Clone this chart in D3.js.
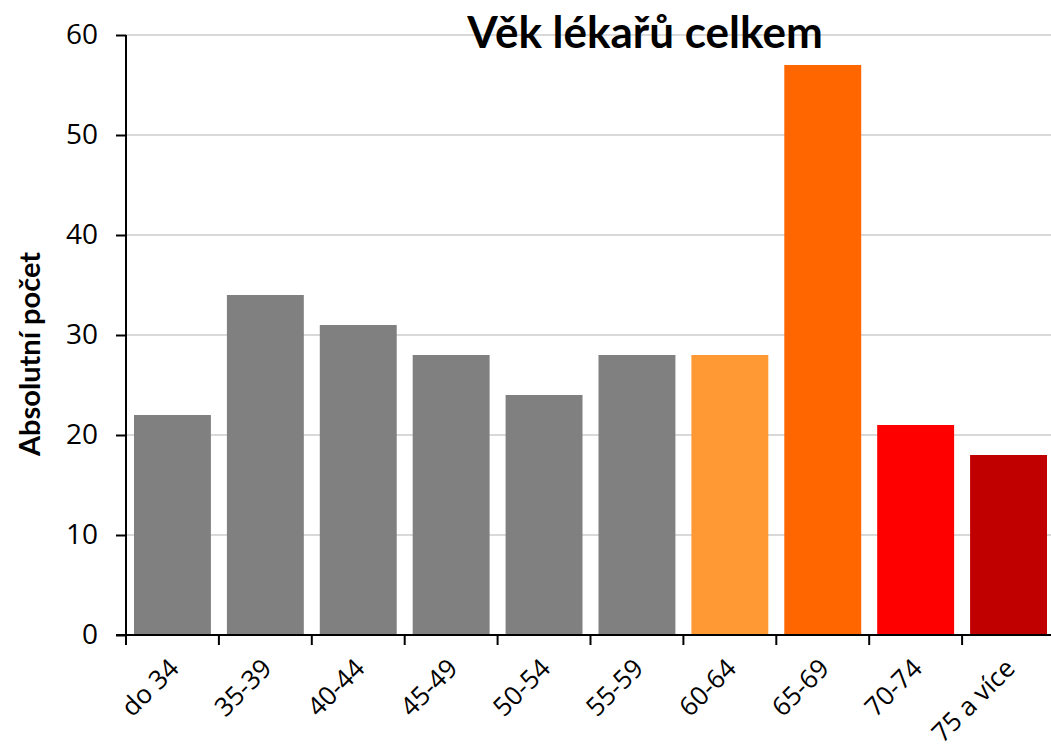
<!DOCTYPE html>
<html>
<head>
<meta charset="utf-8">
<script src="https://cdn.jsdelivr.net/npm/d3@7"></script>
<style>
  body { margin: 0; background: #fff; }
  svg { display: block; }
</style>
</head>
<body>
<svg width="1051" height="754"></svg>
<script>
var categories = ["do 34", "35-39", "40-44", "45-49", "50-54", "55-59", "60-64", "65-69", "70-74", "75 a více"];
var values = [22, 34, 31, 28, 24, 28, 28, 57, 21, 18];
var barColors = ["#808080", "#808080", "#808080", "#808080", "#808080", "#808080", "#FF9933", "#FF6600", "#FF0000", "#C00000"];
var yTicks = [0, 10, 20, 30, 40, 50, 60];

var svg = d3.select("svg");
// plot area edges (avoid the name "top", it's window.top)
var plotLeft = 126, plotRight = 1055, plotTop = 35, plotBottom = 635;

var x = d3.scaleBand()
    .domain(categories)
    .range([plotLeft, plotRight])
    .paddingInner(0.172)
    .paddingOuter(0.086);

var y = d3.scaleLinear()
    .domain([0, 60])
    .range([plotBottom, plotTop]);

// gridlines
svg.append("g")
    .selectAll("line")
    .data(yTicks.slice(1))
    .enter().append("line")
    .attr("x1", plotLeft)
    .attr("x2", 1051)
    .attr("y1", function(d) { return y(d); })
    .attr("y2", function(d) { return y(d); })
    .style("stroke", "#d9d9d9")
    .style("stroke-width", "2px");

// title sits on top of the gridline
svg.append("text")
    .attr("x", 645)
    .attr("y", 48)
    .attr("text-anchor", "middle")
    .style("font-family", "Lato")
    .style("font-weight", "bold")
    .style("font-size", "44px")
    .style("fill", "#000")
    .text("Věk lékařů celkem");

// bars
svg.append("g")
    .selectAll("rect")
    .data(values)
    .enter().append("rect")
    .attr("x", function(d, i) { return x(categories[i]); })
    .attr("y", function(d) { return y(d); })
    .attr("width", x.bandwidth())
    .attr("height", function(d) { return plotBottom - y(d); })
    .style("fill", function(d, i) { return barColors[i]; });

// y axis
var yAxis = svg.append("g")
    .attr("transform", "translate(" + plotLeft + ",0)")
    .call(d3.axisLeft(y).tickValues(yTicks).tickSize(10).tickPadding(18));
yAxis.select(".domain").attr("d", "M0," + plotTop + "V" + plotBottom).style("stroke", "#000").style("stroke-width", "2px");
yAxis.selectAll(".tick line").style("stroke", "#000").style("stroke-width", "2px");
yAxis.selectAll("text")
    .style("font-family", "'Open Sans'")
    .style("font-size", "28px")
    .style("fill", "#000");

// x axis: ticks at category boundaries
var boundaries = categories.map(function(c) { return x(c) - x.step() * x.paddingInner() / 2; });
boundaries.push(plotRight);
var xAxisG = svg.append("g");
xAxisG.append("line")
    .attr("x1", plotLeft - 10)
    .attr("x2", 1051)
    .attr("y1", plotBottom)
    .attr("y2", plotBottom)
    .style("stroke", "#000")
    .style("stroke-width", "2px");
xAxisG.selectAll(".bt")
    .data(boundaries)
    .enter().append("line")
    .attr("class", "bt")
    .attr("x1", function(d) { return d; })
    .attr("x2", function(d) { return d; })
    .attr("y1", plotBottom)
    .attr("y2", plotBottom + 10)
    .style("stroke", "#000")
    .style("stroke-width", "2px");

xAxisG.selectAll("text")
    .data(categories)
    .enter().append("text")
    .attr("text-anchor", "end")
    .attr("transform", function(d) {
        var cx = x(d) + x.bandwidth() / 2 + 8;
        return "translate(" + cx + "," + (plotBottom + 35) + ") rotate(-45)";
    })
    .style("font-family", "'Open Sans'")
    .style("font-size", "26px")
    .style("fill", "#000")
    .text(function(d) { return d; });

// y axis title
svg.append("text")
    .attr("transform", "translate(40,354) rotate(-90)")
    .attr("text-anchor", "middle")
    .style("font-family", "Lato")
    .style("font-weight", "bold")
    .style("font-size", "29px")
    .style("fill", "#000")
    .text("Absolutní počet");
</script>
</body>
</html>
